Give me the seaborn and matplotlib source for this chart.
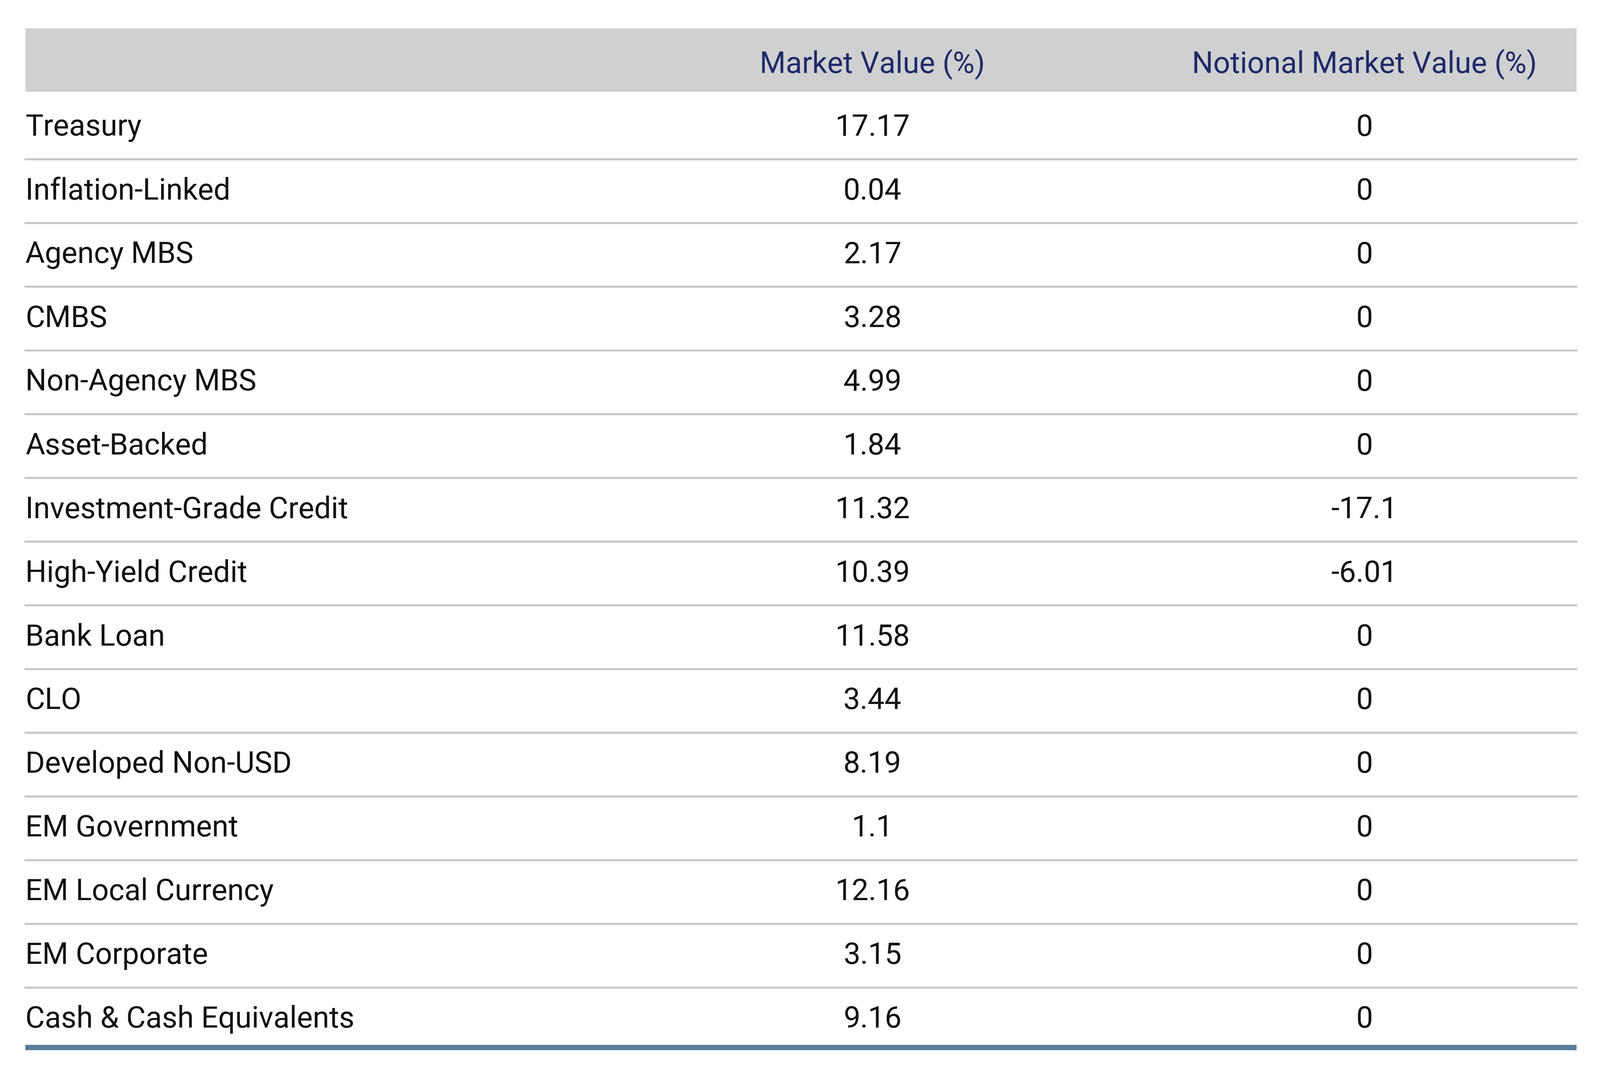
import matplotlib
matplotlib.use("Agg")
import matplotlib.pyplot as plt
import seaborn as sns

categories = [
    "Treasury", "Inflation-Linked", "Agency MBS", "CMBS", "Non-Agency MBS",
    "Asset-Backed", "Investment-Grade Credit", "High-Yield Credit", "Bank Loan",
    "CLO", "Developed Non-USD", "EM Government", "EM Local Currency",
    "EM Corporate", "Cash & Cash Equivalents",
]
market_value = ["17.17", "0.04", "2.17", "3.28", "4.99", "1.84", "11.32", "10.39",
                "11.58", "3.44", "8.19", "1.1", "12.16", "3.15", "9.16"]
notional_value = ["0", "0", "0", "0", "0", "0", "-17.1", "-6.01",
                  "0", "0", "0", "0", "0", "0", "0"]
headers = ["Market Value (%)", "Notional Market Value (%)"]

sns.set_theme(style="white", font="Roboto")

W, H = 1568, 1057
fig = plt.figure(figsize=(41.68, 28.11), dpi=100)
ax = fig.add_axes([0, 0, 1, 1])
ax.set_xlim(0, W)
ax.set_ylim(H, 0)
ax.axis("off")

left, right = 25, 1545
row_h = 62.4
first_y = 125
fs = 56

# header band
ax.fill_between([left, right], 28, 90, color="#d0d0d0", lw=0)
navy = "#1f2a6b"
ax.text(855, 63, headers[0], ha="center", va="center", fontsize=fs, color=navy)
ax.text(1337, 63, headers[1], ha="center", va="center", fontsize=fs, color=navy)

for i, (cat, mv, nv) in enumerate(zip(categories, market_value, notional_value)):
    y = first_y + i * row_h
    ax.text(left, y, cat, ha="left", va="center", fontsize=fs, color="#111111")
    ax.text(855, y, mv, ha="center", va="center", fontsize=fs, color="#111111")
    ax.text(1337, y, nv, ha="center", va="center", fontsize=fs, color="#111111")
    if i < len(categories) - 1:
        ax.plot([left, right], [y + row_h / 2] * 2, color="#c8c8c8", lw=4)

ax.plot([left, right], [1026, 1026], color="#5b7b9a", lw=10, solid_capstyle="butt")

fig.savefig("out.png", dpi=100, facecolor="white")
